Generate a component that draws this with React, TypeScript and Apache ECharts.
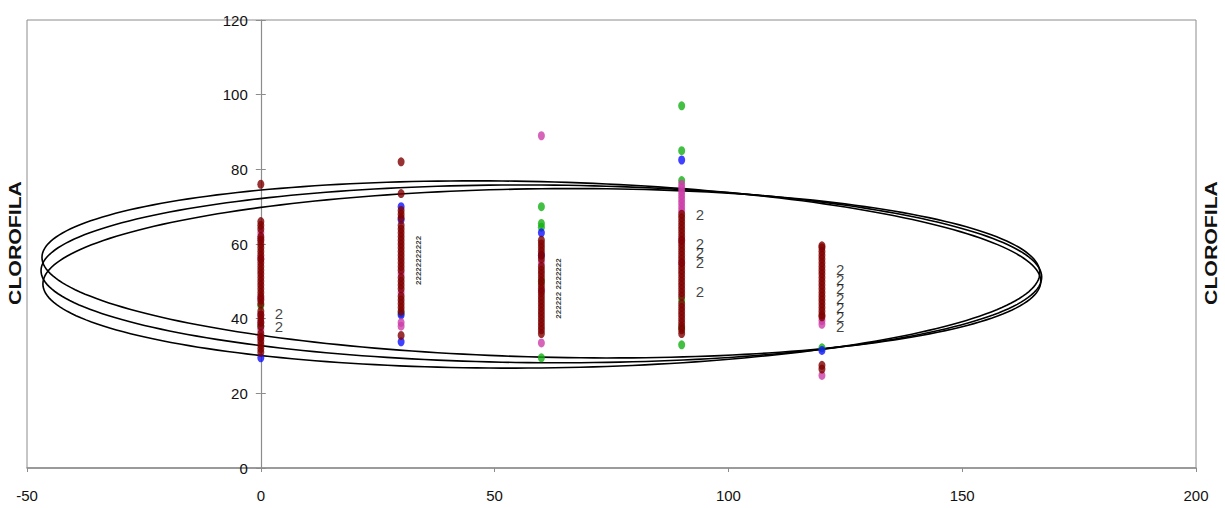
import React, { useEffect, useRef } from "react";
import * as echarts from "echarts";

// ---- data ----
const xTickValues = [-50, 0, 50, 100, 150, 200];
const yTickValues = [0, 20, 40, 60, 80, 100, 120];
const columns = [0, 30, 60, 90, 120];

const darkRedY = [
  [76, 66, 65, 64, 62, 61, 60, 59, 58, 57, 56, 55, 54, 53, 52, 51, 50, 49, 48, 47, 46, 45, 44, 42, 41, 40, 39, 38, 36, 35, 34, 33, 32, 31],
  [82, 73.5, 69, 68, 67, 65, 64, 63, 62, 61, 60, 59, 58, 57, 56, 55, 54, 53, 51, 50, 49, 48, 46, 45, 44, 43, 42, 35.5],
  [61, 60, 59, 58, 57, 56, 54, 53, 52, 51, 50, 49, 48, 47, 46, 45, 44, 43, 42, 41, 40, 39, 38, 37, 36],
  [68, 67, 66, 65, 64, 63, 62, 61, 60, 59, 58, 57, 56, 55, 54, 53, 52, 51, 50, 49, 48, 47, 46, 44, 43, 42, 41, 40, 39, 38, 37, 36],
  [59.5, 59, 58, 57, 56, 55, 54, 53, 52, 51, 50, 49, 48, 47, 46, 45, 44, 43, 42, 41, 40.5, 27.5, 26.5],
];
const magentaY = [
  [63, 61.5, 56, 45.5, 41, 39, 37, 35],
  [52, 47, 39, 38],
  [89, 55, 47.5, 33.5],
  [76, 75, 74, 73, 72, 71, 70, 69, 61, 55],
  [39.5, 38.5, 24.8],
];
const greenY = [
  [43.5, 38],
  [41.5],
  [70, 65.5, 64.5, 50, 29.5],
  [97, 85, 77, 45, 37.5, 33],
  [32.2],
];
const blueY = [
  [29.5],
  [70, 66.5, 41, 33.8],
  [63, 57],
  [82.5],
  [31.5],
];

// data labels "2"
const bigLabelPoints = [
  [0, 41.3], [0, 37.9],
  [90, 67.9], [90, 60.1], [90, 57.7], [90, 55], [90, 47.2],
  [120, 53.2], [120, 50.5], [120, 48], [120, 45.5], [120, 43], [120, 40.5], [120, 38],
];
const smallLabelPoints = [
  [30, 61], [30, 59.8], [30, 58.6], [30, 57.4], [30, 56.2], [30, 55], [30, 53.8], [30, 52.6], [30, 51.4], [30, 50.2], [30, 49],
  [60, 55], [60, 53.8], [60, 52.6], [60, 51.4], [60, 50.2], [60, 49], [60, 47.8],
  [60, 46], [60, 44.8], [60, 43.6], [60, 42.4], [60, 41.2], [60, 40],
];

// ellipses: [cx, cy, semi-axis x, semi-axis y, shear]
const ellipseCx = [60, 60, 60];
const ellipseCy = [53.2, 52, 50.8];
const ellipseA = [106.8, 107, 106.6];
const ellipseB = [23.5, 23.8, 24];
const ellipseShear = [-0.03, -0.008, 0.014];

const axisName = "CLOROFILA";

const FONT = "'Liberation Sans Narrow', 'Liberation Sans', Arial, sans-serif";

const GRID_LEFT = 27;
const GRID_RIGHT = 29;
const CHART_W = 1225;

function toPoints(ys: number[][]) {
  const out: number[][] = [];
  ys.forEach((col, i) => col.forEach((y) => out.push([columns[i], y])));
  return out;
}

export default function App() {
  const ref = useRef<HTMLDivElement>(null);
  useEffect(() => {
    if (!ref.current) return;
    const chart = echarts.init(ref.current, undefined, { renderer: "svg" });
    const ellipseData = ellipseCx.map((cx, i) => [cx, ellipseCy[i], ellipseA[i], ellipseB[i], ellipseShear[i]]);
    const dot = (name: string, color: string, ys: number[][]) => ({
      name,
      type: "scatter",
      data: toPoints(ys),
      symbol: "circle",
      symbolSize: [7, 9],
      itemStyle: { color },
      z: 3,
    });
    const titleStyle = {
      text: axisName,
      fontSize: 17,
      fontWeight: "bold",
      fontFamily: "'Liberation Sans', Arial, sans-serif",
      fill: "#111",
      align: "center",
      verticalAlign: "middle",
    };
    // place the y axis at x = 0 by offsetting it inward from the grid's left edge
    const plotW = CHART_W - GRID_LEFT - GRID_RIGHT;
    const yAxisOffset = -((0 - -50) / (200 - -50)) * plotW;
    chart.setOption({
      animation: false,
      grid: {
        left: GRID_LEFT,
        right: GRID_RIGHT,
        top: 20,
        bottom: 40,
        show: true,
        containLabel: false,
        outerBoundsMode: "none",
        borderColor: "#8c8c8c",
        borderWidth: 1,
      },
      xAxis: {
        type: "value",
        min: -50,
        max: 200,
        interval: 50,
        axisLine: { show: true, onZero: false, lineStyle: { color: "#8c8c8c", width: 1.5 } },
        axisTick: { show: true, length: 4, lineStyle: { color: "#8c8c8c" } },
        splitLine: { show: false },
        axisLabel: {
          margin: 20,
          color: "#111",
          fontSize: 15,
          fontFamily: FONT,
          customValues: xTickValues,
        },
      },
      yAxis: [
        {
          type: "value",
          min: 0,
          max: 120,
          interval: 20,
          position: "left",
          offset: yAxisOffset,
          axisLine: { show: true, onZero: false, lineStyle: { color: "#8c8c8c", width: 1.2 } },
          axisTick: { show: true, length: 5, lineStyle: { color: "#8c8c8c" } },
          splitLine: { show: false },
          axisLabel: {
            margin: 13,
            color: "#111",
            fontSize: 15,
            fontFamily: FONT,
            customValues: yTickValues,
          },
        },
        {
          type: "value",
          min: 0,
          max: 120,
          interval: 20,
          position: "left",
          offset: yAxisOffset,
          axisLine: { show: false, onZero: false },
          axisTick: { show: true, inside: true, length: 5, lineStyle: { color: "#8c8c8c" } },
          axisLabel: { show: false },
          splitLine: { show: false },
        },
      ],
      graphic: [
        { type: "text", x: 15, y: 243, rotation: Math.PI / 2, scaleX: 1.25, style: titleStyle },
        { type: "text", x: 1211, y: 243, rotation: Math.PI / 2, scaleX: 1.25, style: titleStyle },
      ],
      series: [
        {
          type: "custom",
          data: ellipseData,
          z: 2,
          silent: true,
          clip: true,
          renderItem: (params: any, api: any) => {
            const cx = api.value(0);
            const cy = api.value(1);
            const a = api.value(2);
            const b = api.value(3);
            const k = api.value(4);
            const pts: number[][] = [];
            const n = 240;
            for (let i = 0; i <= n; i++) {
              const t = (i / n) * Math.PI * 2;
              const dx = a * Math.cos(t);
              pts.push(api.coord([cx + dx, cy + b * Math.sin(t) + k * dx]));
            }
            return {
              type: "polyline",
              shape: { points: pts },
              style: { stroke: "#000", fill: null, lineWidth: 1.6 },
            };
          },
        },
        dot("green", "#14b014", greenY),
        dot("blue", "#1010ff", blueY),
        dot("magenta", "#cc3fa8", magentaY),
        dot("darkred", "#800000", darkRedY),
        {
          type: "scatter",
          data: bigLabelPoints,
          symbolSize: 0,
          z: 4,
          silent: true,
          label: {
            show: true,
            formatter: "2",
            position: "right",
            distance: 14,
            color: "#111",
            fontSize: 15,
            fontFamily: FONT,
          },
        },
        {
          type: "scatter",
          data: smallLabelPoints,
          symbolSize: 0,
          z: 4,
          silent: true,
          label: {
            show: true,
            formatter: "2",
            position: "right",
            distance: 17,
            rotate: 90,
            color: "#000",
            fontSize: 8,
            fontWeight: "bold",
            fontFamily: FONT,
          },
        },
      ],
    });
    return () => chart.dispose();
  }, []);
  return (
    <div
      ref={ref}
      style={{ position: "fixed", left: 0, top: 0, width: CHART_W, height: 508, background: "#fff" }}
    />
  );
}
